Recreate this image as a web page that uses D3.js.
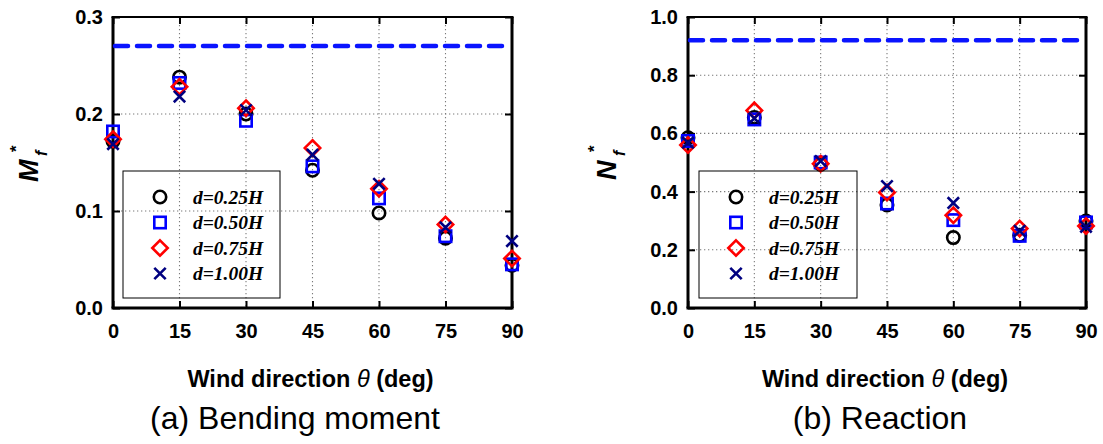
<!DOCTYPE html>
<html>
<head>
<meta charset="utf-8">
<script src="https://cdn.jsdelivr.net/npm/d3@7"></script>
<style>
  html, body { margin: 0; padding: 0; background: #fff; }
  svg { display: block; }
</style>
</head>
<body>
<svg id="chart" width="1103" height="444"></svg>
<script>
// Wind directions (deg) and case labels
const theta = [0, 15, 30, 45, 60, 75, 90];
const caseLabels = ["d=0.25H", "d=0.50H", "d=0.75H", "d=1.00H"];

// (a) normalised bending moment M_f*
const momentD025 = [0.172, 0.238, 0.200, 0.142, 0.098, 0.072, 0.044];
const momentD050 = [0.182, 0.232, 0.193, 0.146, 0.113, 0.074, 0.045];
const momentD075 = [0.174, 0.228, 0.206, 0.165, 0.123, 0.086, 0.051];
const momentD100 = [0.169, 0.218, 0.204, 0.158, 0.128, 0.083, 0.069];
const momentLimit = 0.27;
const momentTicks = [0.0, 0.1, 0.2, 0.3];

// (b) normalised reaction N_f*
const reactionD025 = [0.585, 0.655, 0.494, 0.354, 0.242, 0.250, 0.299];
const reactionD050 = [0.574, 0.648, 0.500, 0.359, 0.302, 0.248, 0.294];
const reactionD075 = [0.560, 0.679, 0.496, 0.397, 0.319, 0.273, 0.282];
const reactionD100 = [0.568, 0.652, 0.505, 0.419, 0.361, 0.265, 0.279];
const reactionLimit = 0.92;
const reactionTicks = [0.0, 0.2, 0.4, 0.6, 0.8, 1.0];

const thetaTicks = [0, 15, 30, 45, 60, 75, 90];

const svg = d3.select("#chart");
const SANS = "'Liberation Sans', Arial, sans-serif";
const SERIF = "'Liberation Serif', 'Times New Roman', serif";

const markerStyles = [
  { shape: "circle",  color: "#000000" },
  { shape: "square",  color: "#0000ff" },
  { shape: "diamond", color: "#ff0000" },
  { shape: "cross",   color: "#000080" }
];

function drawMarker(g, shape, color, cx, cy) {
  const sw = 2.6;
  if (shape === "circle") {
    g.append("circle").attr("cx", cx).attr("cy", cy).attr("r", 6.2)
      .attr("fill", "none").attr("stroke", color).attr("stroke-width", sw);
  } else if (shape === "square") {
    g.append("rect").attr("x", cx - 5.7).attr("y", cy - 5.7)
      .attr("width", 11.4).attr("height", 11.4)
      .attr("fill", "none").attr("stroke", color).attr("stroke-width", sw);
  } else if (shape === "diamond") {
    const r = 7.7;
    g.append("path")
      .attr("d", `M${cx},${cy - r}L${cx + r},${cy}L${cx},${cy + r}L${cx - r},${cy}Z`)
      .attr("fill", "none").attr("stroke", color).attr("stroke-width", sw);
  } else {
    const r = 5.7;
    g.append("path")
      .attr("d", `M${cx - r},${cy - r}L${cx + r},${cy + r}M${cx - r},${cy + r}L${cx + r},${cy - r}`)
      .attr("fill", "none").attr("stroke", color).attr("stroke-width", sw);
  }
}

function panel(opts) {
  const { left, right, top, bottom, yMax, yTicks, series, limit,
          legendBox, yLabel, caption, captionX } = opts;
  const g = svg.append("g");

  const x = d3.scaleLinear().domain([0, 90]).range([left, right]);
  const y = d3.scaleLinear().domain([0, yMax]).range([bottom, top]);

  // dotted grid
  const grid = g.append("g").attr("stroke", "#7a7a7a").attr("stroke-width", 1.1)
    .attr("stroke-dasharray", "1.3,2.7");
  grid.selectAll("line.gx").data(thetaTicks.slice(1, -1)).join("line")
    .attr("x1", d => x(d)).attr("x2", d => x(d))
    .attr("y1", top).attr("y2", bottom);
  grid.selectAll("line.gy").data(yTicks.slice(1, -1)).join("line")
    .attr("x1", left).attr("x2", right)
    .attr("y1", d => y(d)).attr("y2", d => y(d));

  // axes with inward ticks
  const fmt = d3.format(".1f");
  const axB = g.append("g").attr("transform", `translate(0,${bottom})`)
    .call(d3.axisBottom(x).tickValues(thetaTicks).tickSizeInner(-7).tickSizeOuter(0).tickPadding(16));
  const axT = g.append("g").attr("transform", `translate(0,${top})`)
    .call(d3.axisTop(x).tickValues(thetaTicks).tickSizeInner(-7).tickSizeOuter(0).tickFormat(""));
  const axL = g.append("g").attr("transform", `translate(${left},0)`)
    .call(d3.axisLeft(y).tickValues(yTicks).tickFormat(fmt).tickSizeInner(-7).tickSizeOuter(0).tickPadding(10));
  const axR = g.append("g").attr("transform", `translate(${right},0)`)
    .call(d3.axisRight(y).tickValues(yTicks).tickSizeInner(-7).tickSizeOuter(0).tickFormat(""));
  [axB, axT, axL, axR].forEach(a => {
    a.select(".domain").remove();
    a.selectAll(".tick line").attr("stroke", "#000").attr("stroke-width", 2);
    a.selectAll(".tick text").attr("fill", "#000")
      .style("font-family", SANS).style("font-size", "20px").style("font-weight", "bold");
  });

  // frame
  const frame = g.append("g").attr("stroke", "#000").attr("fill", "none");
  frame.append("line").attr("x1", left - 1.5).attr("x2", right + 1.5).attr("y1", top).attr("y2", top).attr("stroke-width", 2);
  frame.append("line").attr("x1", left - 1.5).attr("x2", right + 1.5).attr("y1", bottom).attr("y2", bottom).attr("stroke-width", 3);
  frame.append("line").attr("x1", left).attr("x2", left).attr("y1", top).attr("y2", bottom).attr("stroke-width", 3);
  frame.append("line").attr("x1", right).attr("x2", right).attr("y1", top).attr("y2", bottom).attr("stroke-width", 3);

  // reference level
  g.append("line")
    .attr("x1", x(0) + 2).attr("x2", x(90) - 2)
    .attr("y1", y(limit)).attr("y2", y(limit))
    .attr("stroke", "#0a14ff").attr("stroke-width", 4.5)
    .attr("stroke-dasharray", "13,9").attr("stroke-linecap", "round");

  // data markers
  const pts = g.append("g");
  series.forEach((vals, i) => {
    const st = markerStyles[i];
    vals.forEach((v, j) => drawMarker(pts, st.shape, st.color, x(theta[j]), y(v)));
  });

  // legend
  const lg = g.append("g");
  lg.append("rect").attr("x", legendBox.x).attr("y", legendBox.y)
    .attr("width", legendBox.w).attr("height", legendBox.h)
    .attr("fill", "none").attr("stroke", "#000").attr("stroke-width", 1);
  caseLabels.forEach((lab, i) => {
    const ry = legendBox.y + 26 + i * 25.5;
    drawMarker(lg, markerStyles[i].shape, markerStyles[i].color, legendBox.mx, ry);
    lg.append("text").attr("x", legendBox.tx).attr("y", ry + 6.5)
      .style("font-family", SERIF).style("font-size", "19.5px")
      .style("font-weight", "bold").style("font-style", "italic")
      .text(lab);
  });

  // y-axis label: symbol with subscript f and superscript *
  const yl = g.append("g")
    .attr("transform", `translate(${yLabel.x},${yLabel.y}) rotate(-90)`)
    .style("font-family", SANS).style("font-weight", "bold").style("font-style", "italic");
  yl.append("text").attr("x", 0).attr("y", 0).style("font-size", "27px").text(yLabel.sym);
  yl.append("text").attr("x", yLabel.subX).attr("y", 9).style("font-size", "16px").text("f");
  yl.append("text").attr("x", yLabel.subX + 4).attr("y", -16).style("font-size", "17px")
    .style("font-style", "normal").text("*");

  // x-axis title
  const xt = g.append("text").attr("x", (left + right) / 2 - 2).attr("y", 387)
    .attr("text-anchor", "middle")
    .style("font-family", SANS).style("font-size", "23.5px").style("font-weight", "bold");
  xt.append("tspan").text("Wind direction ");
  xt.append("tspan").style("font-style", "italic").style("font-weight", "normal").text("θ");
  xt.append("tspan").text(" (deg)");

  // caption
  g.append("text").attr("x", captionX).attr("y", 429).attr("text-anchor", "middle")
    .style("font-family", SANS).style("font-size", "32px").text(caption);
}

panel({
  left: 113, right: 512, top: 17, bottom: 308,
  yMax: 0.3, yTicks: momentTicks,
  series: [momentD025, momentD050, momentD075, momentD100],
  limit: momentLimit,
  legendBox: { x: 123, y: 171, w: 157, h: 127, mx: 160, tx: 193 },
  yLabel: { x: 38, y: 182, sym: "M", subX: 26 },
  caption: "(a) Bending moment", captionX: 295
});

panel({
  left: 688, right: 1086, top: 17, bottom: 308,
  yMax: 1.0, yTicks: reactionTicks,
  series: [reactionD025, reactionD050, reactionD075, reactionD100],
  limit: reactionLimit,
  legendBox: { x: 699, y: 171, w: 158, h: 127, mx: 736, tx: 769 },
  yLabel: { x: 616, y: 180, sym: "N", subX: 24 },
  caption: "(b) Reaction", captionX: 880
});
</script>
</body>
</html>
